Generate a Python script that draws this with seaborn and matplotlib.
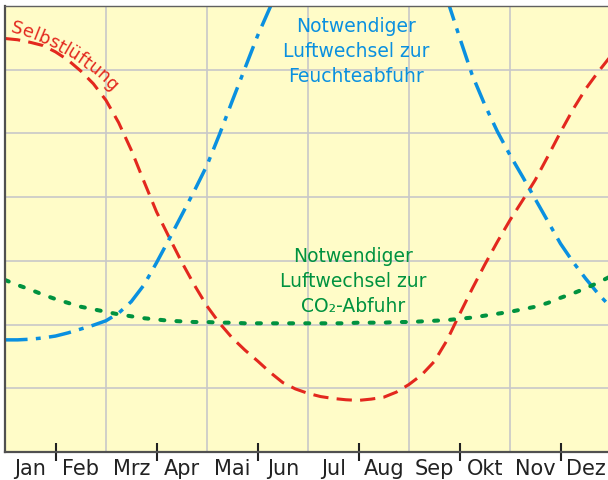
import numpy as np
import pandas as pd
import matplotlib
matplotlib.use("Agg")
import matplotlib.pyplot as plt
import seaborn as sns
from matplotlib.font_manager import FontProperties, findfont, get_font

# Viertelmonatsraster (0 = Anfang Januar, 12 = Ende Dezember)
monate = np.arange(0, 12.25, 0.25)
monatsmitten = np.arange(0.5, 12, 1.0)

selbstlueftung = [6.49, 6.47, 6.43, 6.38, 6.28, 6.15, 5.98, 5.78, 5.52, 5.17, 4.74, 4.25, 3.77,
                  3.37, 2.98, 2.62, 2.29, 2.02, 1.79, 1.60, 1.43, 1.25, 1.09, 0.99, 0.92,
                  0.87, 0.84, 0.82, 0.81, 0.83, 0.86, 0.94, 1.06, 1.21, 1.42, 1.75, 2.16,
                  2.56, 2.94, 3.30, 3.64, 3.95, 4.27, 4.64, 5.02, 5.38, 5.70, 5.97, 6.22]
nan = np.nan
feuchteabfuhr = [1.76, 1.76, 1.77, 1.79, 1.82, 1.87, 1.93, 1.99, 2.06, 2.18, 2.36, 2.62, 2.97,
                 3.34, 3.72, 4.10, 4.50, 4.99, 5.51, 6.02, 6.53, 6.98, 7.45, nan, nan,
                 nan, nan, nan, nan, nan, nan, nan, nan, nan, 7.75, 7.12, 6.51,
                 5.92, 5.45, 5.03, 4.66, 4.32, 3.97, 3.62, 3.27, 2.98, 2.72, 2.48, 2.27]
co2_abfuhr = [2.70, 2.62, 2.55, 2.47, 2.40, 2.34, 2.28, 2.24, 2.20, 2.16, 2.13, 2.10, 2.08,
              2.06, 2.05, 2.04, 2.04, 2.03, 2.03, 2.02, 2.02, 2.02, 2.02, 2.02, 2.02,
              2.02, 2.02, 2.02, 2.03, 2.03, 2.03, 2.04, 2.04, 2.05, 2.06, 2.07, 2.09,
              2.11, 2.14, 2.17, 2.20, 2.24, 2.28, 2.34, 2.42, 2.49, 2.57, 2.66, 2.76]

monatsnamen = ["Jan", "Feb", "Mrz", "Apr", "Mai", "Jun", "Jul", "Aug", "Sep", "Okt", "Nov", "Dez"]

kurven = ["Selbstlüftung", "Feuchteabfuhr", "CO2-Abfuhr"]
farben = {"Selbstlüftung": "#E3281E", "Feuchteabfuhr": "#0A90E0", "CO2-Abfuhr": "#00923F"}
striche = {"Selbstlüftung": (5.0, 2.7), "Feuchteabfuhr": (6.5, 2.4, 1.4, 2.4), "CO2-Abfuhr": (1.0, 3.0)}

df = pd.DataFrame({
    "monat": np.tile(monate, 3),
    "wert": selbstlueftung + feuchteabfuhr + co2_abfuhr,
    "kurve": np.repeat(kurven, len(monate)),
})

W, H = 608, 481
fig = plt.figure(figsize=(W / 100, H / 100), dpi=100)
ax = fig.add_axes([5 / W, 28 / H, 606 / W, 446 / H])
ax.set_facecolor("#FFFCC8")

# Gitter
for m in [2, 4, 6, 8, 10]:
    ax.axvline(m, color="#C8C8C8", lw=1.2, zorder=0.5)
for v in range(1, 7):
    ax.axhline(v, color="#C8C8C8", lw=1.2, zorder=0.5)

sns.lineplot(data=df, x="monat", y="wert", hue="kurve", style="kurve",
             hue_order=kurven, style_order=kurven, palette=farben, dashes=striche,
             linewidth=2.2, legend=False, estimator=None, ax=ax)

lines = ax.get_lines()[-3:]
lines[1].set_linewidth(2.5)
lines[2].set_linewidth(2.9)
lines[2].set_dash_capstyle("round")

ax.set_xlim(0, 12)
ax.set_ylim(0, 7)
ax.set_xlabel("")
ax.set_ylabel("")
ax.set_yticks([])

ax.set_xticks([1, 3, 5, 7, 9, 11])
ax.set_xticklabels([])
ax.set_xticks(monatsmitten, minor=True)
ax.set_xticklabels(monatsnamen, minor=True, fontsize=15, color="#222222", family="DejaVu Sans")
ax.tick_params(axis="x", which="major", direction="inout", length=12.5, width=1.5, color="#222222")
ax.tick_params(axis="x", which="minor", length=0, pad=4.3)

for s in ["left", "bottom"]:
    ax.spines[s].set_color("#505050")
    ax.spines[s].set_linewidth(1.6)
ax.spines["top"].set_color("#606060")
ax.spines["top"].set_linewidth(1.0)
ax.spines["right"].set_visible(False)

# Beschriftungen
blau = ["Notwendiger", "Luftwechsel zur", "Feuchteabfuhr"]
for zeile, yv in zip(blau, [6.61, 6.22, 5.82]):
    ax.text(6.95, yv, zeile, color="#0A90E0", fontsize=13.5, ha="center", va="baseline")
gruen = ["Notwendiger", "Luftwechsel zur", "CO₂-Abfuhr"]
for zeile, yv in zip(gruen, [3.0, 2.61, 2.21]):
    ax.text(6.89, yv, zeile, color="#00923F", fontsize=13.5, ha="center", va="baseline")


def bogentext(text, cx, cy, r, start_grad, groesse, farbe):
    prop = FontProperties(family="DejaVu Sans", size=groesse)
    font = get_font(findfont(prop))
    font.set_size(groesse, fig.dpi)
    pos = 0.0
    for ch in text:
        adv = font.load_char(ord(ch)).linearHoriAdvance / 65536
        w = np.radians(start_grad) - (pos + adv / 2) / r
        x = cx + r * np.cos(w)
        y = cy - r * np.sin(w)
        fig.text(x / W, 1 - y / H, ch, rotation=np.degrees(w) - 90, rotation_mode="anchor",
                 ha="center", va="baseline", fontproperties=prop, color=farbe)
        pos += adv


bogentext("Selbstlüftung", -47.0, 245.7, 221.2, 75.0, 13, "#E3281E")

fig.savefig("out.png", dpi=100)
